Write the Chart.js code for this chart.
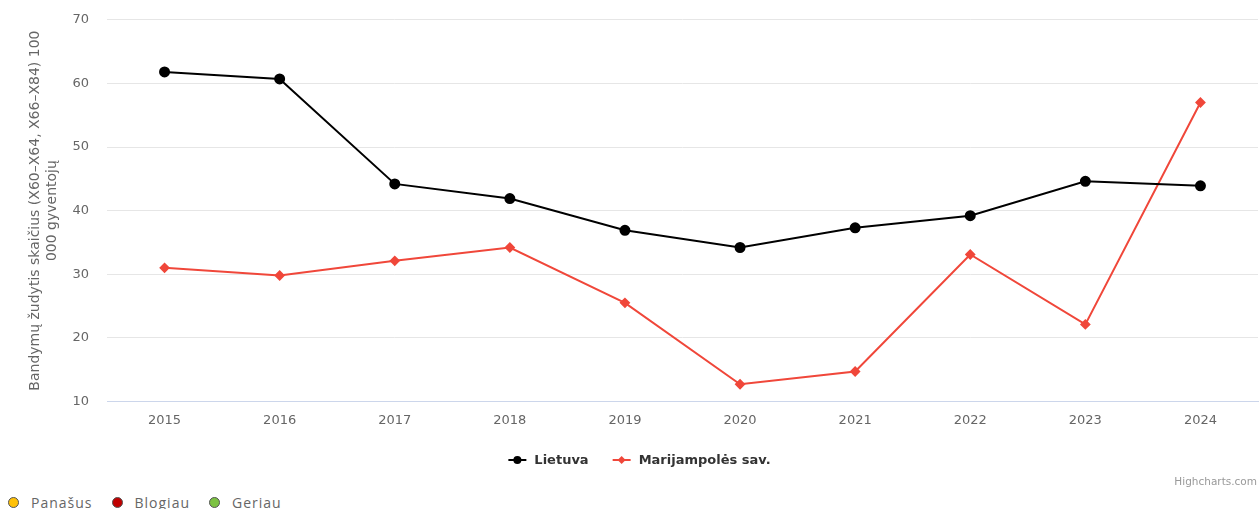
<!DOCTYPE html>
<html>
<head>
<meta charset="utf-8">
<script src="https://cdn.jsdelivr.net/npm/chart.js@4"></script>
<style>
  body { margin: 0; background: #fff; width: 1259px; height: 509px; overflow: hidden; position: relative; }
  #wrap { position: absolute; left: 0; top: -6px; width: 1259px; height: 496px; }
  #credit { position: absolute; right: 2px; top: 475px; font: 10.5px "DejaVu Sans", sans-serif; color: #999; }
  #status { position: absolute; left: 8px; top: 493px; font: 14px "Open Sans", sans-serif; letter-spacing: 1px; color: #666; display: flex; gap: 19px; }
  #status span { display: inline-flex; align-items: center; }
  #status i { display: inline-block; width: 9px; height: 9px; border-radius: 50%; border: 1px solid #555; margin-right: 12px; }
</style>
</head>
<body>
<div id="wrap"><canvas id="myChart"></canvas></div>
<div id="credit">Highcharts.com</div>
<div id="status">
  <span><i style="background:#ffc107"></i>Panašus</span>
  <span><i style="background:#c00000"></i>Blogiau</span>
  <span><i style="background:#7cc242"></i>Geriau</span>
</div>
<script>
// chart data
var years = ["2015", "2016", "2017", "2018", "2019", "2020", "2021", "2022", "2023", "2024"];
var lietuva = [61.8, 60.7, 44.2, 41.9, 36.9, 34.2, 37.3, 39.2, 44.6, 43.9];
var marijampole = [31.0, 29.8, 32.1, 34.2, 25.5, 12.7, 14.7, 33.1, 22.1, 57.0];
var yTicks = [10, 20, 30, 40, 50, 60, 70];
var yTitle = ["Bandymų žudytis skaičius (X60–X64, X66–X84) 100", "000 gyventojų"];

// legend drawn like highcharts (line + marker + bold label)
var lineLegend = {
  id: "lineLegend",
  afterDraw: function (chart) {
    var ctx = chart.ctx;
    var y = 466;
    ctx.save();
    ctx.font = "bold 13px 'DejaVu Sans', sans-serif";
    var items = chart.data.datasets.map(function (ds) {
      return { ds: ds, w: 18 + 8 + ctx.measureText(ds.label).width };
    });
    var gap = 24;
    var total = items.reduce(function (s, it) { return s + it.w; }, 0) + gap * (items.length - 1);
    var x = (chart.width - total) / 2 + 10;
    items.forEach(function (it) {
      var ds = it.ds;
      ctx.strokeStyle = ds.borderColor;
      ctx.lineWidth = 2;
      ctx.beginPath();
      ctx.moveTo(x, y);
      ctx.lineTo(x + 18, y);
      ctx.stroke();
      ctx.fillStyle = ds.borderColor;
      ctx.beginPath();
      if (ds.pointStyle === "rectRot") {
        ctx.moveTo(x + 9, y - 4);
        ctx.lineTo(x + 13, y);
        ctx.lineTo(x + 9, y + 4);
        ctx.lineTo(x + 5, y);
      } else {
        ctx.arc(x + 9, y, 4, 0, Math.PI * 2);
      }
      ctx.fill();
      ctx.fillStyle = "#333";
      ctx.textBaseline = "middle";
      ctx.fillText(ds.label, x + 26, y + 1);
      x += it.w + gap;
    });
    ctx.restore();
  }
};

var ctx = document.getElementById("myChart").getContext("2d");
var chart = new Chart(ctx, {
  type: "line",
  data: {
    labels: years,
    datasets: [
      {
        label: "Lietuva",
        data: lietuva,
        borderColor: "#000000",
        backgroundColor: "#000000",
        borderWidth: 2,
        pointStyle: "circle",
        pointRadius: 4.5,
        pointHoverRadius: 4.5,
        tension: 0
      },
      {
        label: "Marijampolės sav.",
        data: marijampole,
        borderColor: "#f0473a",
        backgroundColor: "#f0473a",
        borderWidth: 2,
        pointStyle: "rectRot",
        pointRadius: 4,
        pointHoverRadius: 4,
        tension: 0
      }
    ]
  },
  options: {
    responsive: true,
    maintainAspectRatio: false,
    animation: false,
    layout: { autoPadding: false, padding: { left: 27, right: 1, top: 6, bottom: 59 } },
    plugins: {
      legend: { display: false },
      tooltip: { enabled: false }
    },
    scales: {
      x: {
        offset: true,
        grid: { display: false },
        border: { display: true, color: "#ccd6eb", width: 1 },
        ticks: { color: "#666", font: { family: "'DejaVu Sans', sans-serif", size: 13 }, padding: 3 }
      },
      y: {
        min: 10,
        max: 70,
        afterBuildTicks: function (axis) {
          axis.ticks = yTicks.map(function (v) { return { value: v }; });
        },
        afterFit: function (axis) { axis.width = 80; },
        grid: { color: "#e6e6e6", drawTicks: false },
        border: { display: false },
        ticks: { color: "#666", font: { family: "'DejaVu Sans', sans-serif", size: 13 }, padding: 18 },
        title: {
          display: true,
          text: yTitle,
          color: "#666",
          font: { family: "'DejaVu Sans', sans-serif", size: 14, lineHeight: 1.2 },
          padding: { top: 0, bottom: 9 }
        }
      }
    }
  },
  plugins: [lineLegend]
});
</script>
</body>
</html>
